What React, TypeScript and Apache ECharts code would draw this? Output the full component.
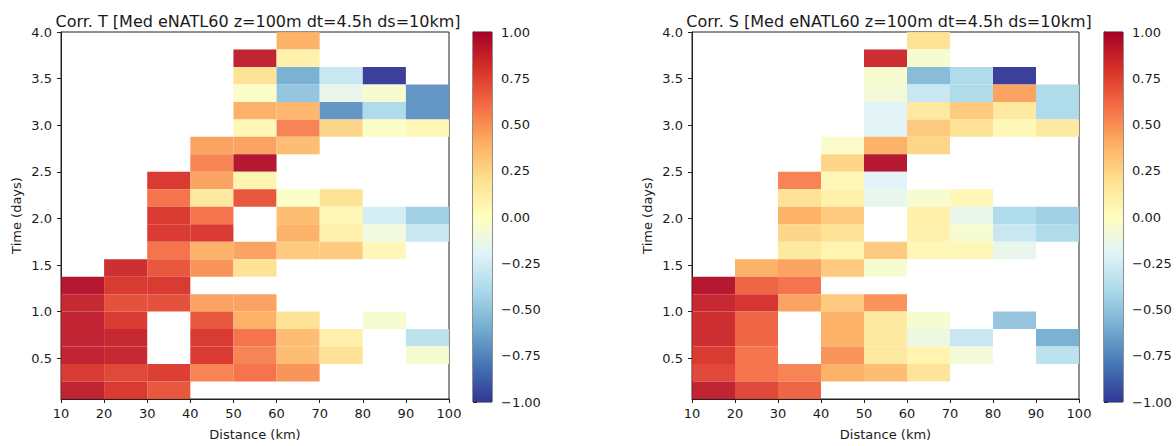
import React, { useEffect, useRef } from "react";
import * as echarts from "echarts";

// Bin edges (categories)
const distanceEdges = [10, 20, 30, 40, 50, 60, 70, 80, 90, 100];
const timeEdges = [
  0.0625, 0.25, 0.4375, 0.625, 0.8125, 1.0, 1.1875, 1.375, 1.5625, 1.75, 1.9375,
  2.125, 2.3125, 2.5, 2.6875, 2.875, 3.0625, 3.25, 3.4375, 3.625, 3.8125, 4.0,
];
const timeTicks = [0.5, 1.0, 1.5, 2.0, 2.5, 3.0, 3.5, 4.0];
const colorbarTicks = [-1, -0.75, -0.5, -0.25, 0, 0.25, 0.5, 0.75, 1];

const titleT = "Corr. T [Med eNATL60 z=100m dt=4.5h ds=10km]";
const titleS = "Corr. S [Med eNATL60 z=100m dt=4.5h ds=10km]";

// Correlation values, top row (3.8125–4.0 days) first, columns 10–20 ... 90–100 km
const corrT: (number | null)[][] = [
  [null, null, null, null, null, 0.4, null, null, null],
  [null, null, null, null, 0.9, 0.1, null, null, null],
  [null, null, null, null, 0.2, -0.6, -0.3, -1.0, null],
  [null, null, null, null, -0.02, -0.5, -0.15, -0.05, -0.7],
  [null, null, null, null, 0.4, 0.38, -0.7, -0.4, -0.7],
  [null, null, null, null, 0.05, 0.55, 0.25, -0.02, 0.05],
  [null, null, null, 0.45, 0.45, 0.35, null, null, null],
  [null, null, null, 0.55, 0.95, null, null, null, null],
  [null, null, 0.8, 0.45, 0.08, null, null, null, null],
  [null, null, 0.6, 0.15, 0.7, -0.02, 0.2, null, null],
  [null, null, 0.8, 0.6, null, 0.35, 0.05, -0.25, -0.45],
  [null, null, 0.8, 0.8, null, 0.4, 0.1, -0.1, -0.3],
  [null, null, 0.6, 0.4, 0.45, 0.3, 0.3, 0.05, null],
  [null, 0.85, 0.7, 0.5, 0.2, null, null, null, null],
  [0.95, 0.8, 0.8, null, null, null, null, null, null],
  [0.88, 0.72, 0.72, 0.45, 0.45, null, null, null, null],
  [0.9, 0.8, null, 0.7, 0.4, 0.2, null, -0.05, null],
  [0.9, 0.88, null, 0.8, 0.6, 0.35, 0.1, null, -0.35],
  [0.9, 0.88, null, 0.8, 0.55, 0.35, 0.2, null, -0.05],
  [0.8, 0.75, 0.78, 0.55, 0.6, 0.5, null, null, null],
  [0.9, 0.8, 0.7, null, null, null, null, null, null],
];

const corrS: (number | null)[][] = [
  [null, null, null, null, null, 0.2, null, null, null],
  [null, null, null, null, 0.85, -0.05, null, null, null],
  [null, null, null, null, -0.05, -0.55, -0.4, -1.0, null],
  [null, null, null, null, -0.08, -0.3, -0.4, 0.45, -0.4],
  [null, null, null, null, -0.2, 0.15, 0.3, 0.15, -0.4],
  [null, null, null, null, -0.2, 0.3, 0.2, 0.05, 0.15],
  [null, null, null, -0.03, 0.4, 0.25, null, null, null],
  [null, null, null, 0.25, 0.95, null, null, null, null],
  [null, null, 0.55, 0.05, -0.2, null, null, null, null],
  [null, null, 0.2, 0.1, -0.15, -0.05, 0.05, null, null],
  [null, null, 0.4, 0.3, null, 0.1, -0.15, -0.4, -0.45],
  [null, null, 0.25, 0.2, null, 0.1, -0.05, -0.3, -0.4],
  [null, null, 0.15, 0.08, 0.3, 0.05, 0.05, -0.15, null],
  [null, 0.4, 0.45, 0.3, -0.05, null, null, null, null],
  [0.95, 0.65, 0.6, null, null, null, null, null, null],
  [0.88, 0.82, 0.45, 0.3, 0.5, null, null, null, null],
  [0.85, 0.65, null, 0.4, 0.15, -0.05, null, -0.5, null],
  [0.85, 0.65, null, 0.4, 0.15, -0.12, -0.3, null, -0.6],
  [0.8, 0.6, null, 0.5, 0.15, 0.08, -0.08, null, -0.35],
  [0.75, 0.6, 0.55, 0.4, 0.35, 0.18, null, null, null],
  [0.9, 0.75, 0.65, null, null, null, null, null, null],
];

// RdYlBu_r
const cmap = [
  "#313695", "#4575b4", "#74add1", "#abd9e9", "#e0f3f8", "#ffffbf",
  "#fee090", "#fdae61", "#f46d43", "#d73027", "#a50026",
];

const FONT = "DejaVu Sans";
const TXT = "#1a1a1a";

function toCells(rows: (number | null)[][]) {
  const out: number[][] = [];
  const n = rows.length;
  rows.forEach((row, i) => {
    const k = n - 1 - i;
    row.forEach((v, c) => {
      if (v !== null) {
        out.push([distanceEdges[c], timeEdges[k], v, distanceEdges[c + 1], timeEdges[k + 1]]);
      }
    });
  });
  return out;
}

const cellRender = (params: any, api: any) => {
  const p0 = api.coord([api.value(0), api.value(4)]);
  const p1 = api.coord([api.value(3), api.value(1)]);
  return {
    type: "rect",
    shape: { x: p0[0], y: p0[1], width: p1[0] - p0[0], height: p1[1] - p0[1] },
    style: { fill: api.visual("color"), opacity: 0.95 },
  };
};

const colorbarRender = (params: any, api: any) => {
  const p0 = api.coord([0, api.value(1)]);
  const p1 = api.coord([1, api.value(0)]);
  const stops = cmap
    .slice()
    .reverse()
    .map((c, i) => ({ offset: i / (cmap.length - 1), color: c }));
  return {
    type: "rect",
    shape: { x: p0[0], y: p0[1], width: p1[0] - p0[0], height: p1[1] - p0[1] },
    style: { fill: new echarts.graphic.LinearGradient(0, 0, 0, 1, stops) },
  };
};

const fmtCbar = (v: number) => (v < 0 ? "\u2212" + Math.abs(v).toFixed(2) : v.toFixed(2));

export default function App() {
  const ref = useRef<HTMLDivElement>(null);
  useEffect(() => {
    document.body.style.margin = "0";
    const chart = echarts.init(ref.current!, undefined, { renderer: "svg" });

    const mainGrids = [
      { left: 61, top: 32, width: 388, height: 370 },
      { left: 692, top: 32, width: 387, height: 370 },
    ];
    const cbarGrids = [
      { left: 473, top: 32, width: 19, height: 370 },
      { left: 1104, top: 32, width: 19, height: 370 },
    ];
    const gridBase = { show: true, borderColor: "#222", borderWidth: 1, backgroundColor: "transparent" };

    const labelStyle = { fontSize: 13, color: TXT, fontFamily: FONT };
    const axisLine = { show: true, lineStyle: { color: "#222", width: 1 } };
    const axisTick = { show: true, length: 4, inside: false, lineStyle: { color: "#222" } };

    const xAxes: any[] = [];
    const yAxes: any[] = [];
    [0, 1].forEach((g) => {
      xAxes.push({
        type: "value",
        gridIndex: g,
        min: distanceEdges[0],
        max: distanceEdges[distanceEdges.length - 1],
        interval: 10,
        axisLine,
        axisTick,
        axisLabel: { ...labelStyle, margin: 8 },
        splitLine: { show: false },
        name: "Distance (km)",
        nameLocation: "middle",
        nameGap: 29,
        nameTextStyle: labelStyle,
      });
      yAxes.push({
        type: "value",
        gridIndex: g,
        min: timeEdges[0],
        max: timeEdges[timeEdges.length - 1],
        axisLine,
        axisTick: { ...axisTick, customValues: timeTicks },
        axisLabel: {
          ...labelStyle,
          margin: 9,
          customValues: timeTicks,
          formatter: (v: number) => v.toFixed(1),
        },
        splitLine: { show: false },
        name: "Time (days)",
        nameLocation: "middle",
        nameRotate: 90,
        nameGap: 38,
        nameTextStyle: labelStyle,
      });
    });
    [2, 3].forEach((g) => {
      xAxes.push({ type: "value", gridIndex: g, min: 0, max: 1, show: false });
      yAxes.push({
        type: "value",
        gridIndex: g,
        position: "right",
        min: -1,
        max: 1,
        interval: 0.25,
        axisLine,
        axisTick,
        axisLabel: { ...labelStyle, margin: 9, formatter: fmtCbar },
        splitLine: { show: false },
      });
    });

    const titleStyle = { fontSize: 16, fontWeight: "normal", color: TXT, fontFamily: FONT };

    chart.setOption({
      animation: false,
      backgroundColor: "#fff",
      title: [
        { text: titleT, left: 253, top: 8, textAlign: "center", textStyle: titleStyle },
        { text: titleS, left: 884, top: 8, textAlign: "center", textStyle: titleStyle },
      ],
      grid: [...mainGrids, ...cbarGrids].map((g) => ({ ...gridBase, ...g })),
      xAxis: xAxes,
      yAxis: yAxes,
      visualMap: {
        type: "continuous",
        show: false,
        min: -1,
        max: 1,
        dimension: 2,
        seriesIndex: [0, 1],
        inRange: { color: cmap },
      },
      series: [
        {
          type: "custom",
          xAxisIndex: 0,
          yAxisIndex: 0,
          data: toCells(corrT),
          renderItem: cellRender,
          encode: { x: [0, 3], y: [1, 4] },
          clip: true,
        },
        {
          type: "custom",
          xAxisIndex: 1,
          yAxisIndex: 1,
          data: toCells(corrS),
          renderItem: cellRender,
          encode: { x: [0, 3], y: [1, 4] },
          clip: true,
        },
        {
          type: "custom",
          xAxisIndex: 2,
          yAxisIndex: 2,
          data: [[colorbarTicks[0], colorbarTicks[colorbarTicks.length - 1]]],
          renderItem: colorbarRender,
          silent: true,
        },
        {
          type: "custom",
          xAxisIndex: 3,
          yAxisIndex: 3,
          data: [[colorbarTicks[0], colorbarTicks[colorbarTicks.length - 1]]],
          renderItem: colorbarRender,
          silent: true,
        },
      ],
    });
    return () => chart.dispose();
  }, []);
  return <div ref={ref} style={{ width: 1176, height: 446 }} />;
}
